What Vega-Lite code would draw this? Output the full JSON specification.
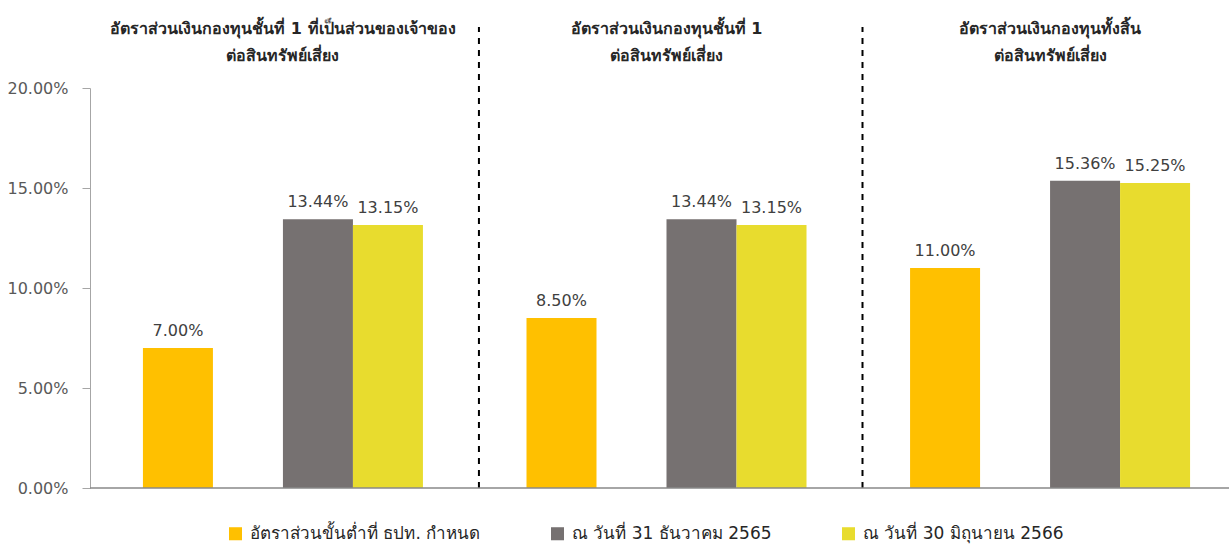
{
  "$schema": "https://vega.github.io/schema/vega-lite/v6.json",
  "width": 1153,
  "height": 400,
  "autosize": {"type": "none"},
  "padding": {"left": 90, "top": 88, "right": 0, "bottom": 57},
  "background": "white",
  "config": {
    "view": {"stroke": null},
    "font": "DejaVu Sans"
  },
  "datasets": {
    "bars": [
      {"group": "g1", "series": "อัตราส่วนขั้นต่ำที่ ธปท. กำหนด", "v": 0.07},
      {"group": "g1", "series": "ณ วันที่ 31 ธันวาคม 2565", "v": 0.1344},
      {"group": "g1", "series": "ณ วันที่ 30 มิถุนายน 2566", "v": 0.1315},
      {"group": "g2", "series": "อัตราส่วนขั้นต่ำที่ ธปท. กำหนด", "v": 0.085},
      {"group": "g2", "series": "ณ วันที่ 31 ธันวาคม 2565", "v": 0.1344},
      {"group": "g2", "series": "ณ วันที่ 30 มิถุนายน 2566", "v": 0.1315},
      {"group": "g3", "series": "อัตราส่วนขั้นต่ำที่ ธปท. กำหนด", "v": 0.11},
      {"group": "g3", "series": "ณ วันที่ 31 ธันวาคม 2565", "v": 0.1536},
      {"group": "g3", "series": "ณ วันที่ 30 มิถุนายน 2566", "v": 0.1525}
    ],
    "seps": [{"group": "g1"}, {"group": "g2"}]
  },
  "layer": [
    {
      "data": {"name": "bars"},
      "mark": {"type": "bar"},
      "encoding": {
        "x": {
          "field": "group", "type": "nominal",
          "scale": {"domain": ["g1", "g2", "g3"], "paddingInner": 0.27, "paddingOuter": 0.138},
          "axis": {
            "orient": "top", "title": null, "ticks": false, "domain": false,
            "labelAngle": 0, "labelPadding": 52, "labelFontSize": 16, "labelFontWeight": "bold",
            "labelColor": "#262626", "labelLineHeight": 27, "labelLimit": 400,
            "labelExpr": "datum.value == 'g1' ? ['อัตราส่วนเงินกองทุนชั้นที่ 1 ที่เป็นส่วนของเจ้าของ', 'ต่อสินทรัพย์เสี่ยง'] : datum.value == 'g2' ? ['อัตราส่วนเงินกองทุนชั้นที่ 1', 'ต่อสินทรัพย์เสี่ยง'] : ['อัตราส่วนเงินกองทุนทั้งสิ้น', 'ต่อสินทรัพย์เสี่ยง']"
          }
        },
        "xOffset": {
          "field": "series", "type": "nominal",
          "scale": {"domain": ["อัตราส่วนขั้นต่ำที่ ธปท. กำหนด", "_", "ณ วันที่ 31 ธันวาคม 2565", "ณ วันที่ 30 มิถุนายน 2566"], "paddingInner": 0, "paddingOuter": 0}
        },
        "y": {
          "field": "v", "type": "quantitative",
          "scale": {"domain": [0, 0.2], "nice": false},
          "axis": {
            "title": null, "format": ".2%", "values": [0, 0.05, 0.1, 0.15, 0.2],
            "grid": false, "domainColor": "#a6a6a6", "tickColor": "#a6a6a6", "tickSize": 8,
            "labelPadding": 14, "labelFontSize": 16, "labelColor": "#595959", "domainWidth": 1
          }
        },
        "color": {
          "field": "series", "type": "nominal",
          "scale": {"domain": ["อัตราส่วนขั้นต่ำที่ ธปท. กำหนด", "ณ วันที่ 31 ธันวาคม 2565", "ณ วันที่ 30 มิถุนายน 2566"], "range": ["#FFC000", "#767171", "#E8DC2E"]},
          "legend": {
            "title": null, "orient": "none", "direction": "horizontal",
            "legendX": 137, "legendY": 437,
            "symbolType": "square", "symbolSize": 170, "symbolStrokeWidth": 0,
            "labelFontSize": 17, "labelColor": "#262626", "columnPadding": 68, "labelLimit": 400, "labelOffset": 6
          }
        }
      }
    },
    {
      "data": {"name": "bars"},
      "mark": {"type": "text", "baseline": "bottom", "dy": -9, "fontSize": 16, "color": "#404040"},
      "encoding": {
        "x": {"field": "group", "type": "nominal"},
        "xOffset": {"field": "series", "type": "nominal"},
        "y": {"field": "v", "type": "quantitative"},
        "text": {"field": "v", "type": "quantitative", "format": ".2%"}
      }
    },
    {
      "data": {"name": "seps"},
      "mark": {"type": "rule", "color": "black", "strokeWidth": 2, "strokeDash": [6, 6]},
      "encoding": {
        "x": {"field": "group", "type": "nominal", "bandPosition": 1.2},
        "y": {"datum": 0},
        "y2": {"datum": 0.2305}
      }
    },
    {
      "data": {"values": [{}]},
      "mark": {"type": "rule", "color": "#898989", "strokeWidth": 1.5},
      "encoding": {"y": {"datum": 0}}
    }
  ]
}
